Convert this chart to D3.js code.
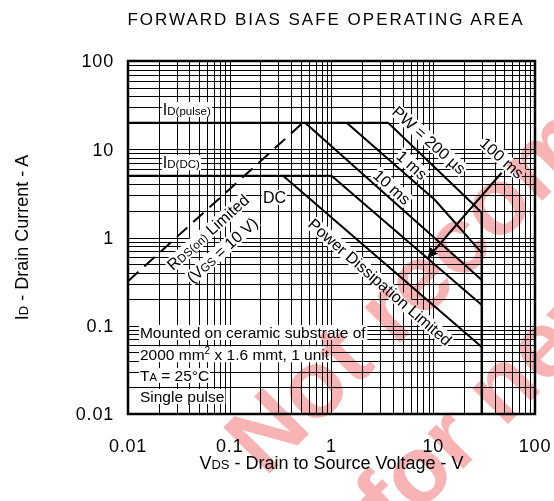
<!DOCTYPE html>
<html>
<head>
<meta charset="utf-8">
<script src="https://cdn.jsdelivr.net/npm/d3@7"></script>
<style>
    body { margin: 0; background: #fff; }
    svg { font-family: 'Liberation Sans', Arial, sans-serif; }
    .grid line { stroke: #000; stroke-width: 1; shape-rendering: crispEdges; }
    .curve { fill: none; stroke: #000; stroke-width: 2; }
    .tick-label { font-size: 18px; letter-spacing: 0.8px; fill: #000; }
    .axis-title { font-size: 18px; fill: #000; }
    .note { font-size: 15.5px; fill: #000; }
    .curve-label { font-size: 16px; fill: #000; }
    .watermark { font-size: 95px; font-weight: bold; fill: #f8b4b4; mix-blend-mode: multiply; }
</style>
</head>
<body>
<script>
'use strict';

// axis decades (log scale, both axes)
const xTicks = [0.01, 0.1, 1, 10, 100];
const yTicks = [0.01, 0.1, 1, 10, 100];
const xTickLabels = ['0.01', '0.1', '1', '10', '100'];
const yTickLabels = ['0.01', '0.1', '1', '10', '100'];

// limits [V, A]
const idPulse = [[0.01, 20], [3.6, 20]];
const idDC = [[0.01, 5], [1.0, 5]];
const vdssLimit = [[30, 1.9], [30, 0.01]];
const rdsLimit = [[0.01, 0.32], [0.525, 20]];

// pulse curves [V, A]
const pw200us = [[3.6, 20], [24, 2.46], [30, 1.9]];
const pw1ms = [[1.41, 20], [10.4, 2.66], [30, 0.67]];
const pw10ms = [[0.55, 20], [30, 0.33]];
const pw100ms = [[1.0, 5], [30, 0.172]];
const dcCurve = [[0.334, 5], [30, 0.0574]];

const noteLines = [
    'Mounted on ceramic substrate of',
    '2000 mm\u00B2 x 1.6 mmt, 1 unit',
    'TA = 25\u00B0C',
    'Single pulse'
];

const watermarkLines = ['Not recommended', 'for new design'];

(function () {

    function getPlotArea() {
        const plot = {
            svg: { width: 554, height: 501 },
            padding: { top: 61, right: 19, bottom: 87, left: 128 }
        };
        plot.range = {
            x: plot.svg.width - plot.padding.left - plot.padding.right,
            y: plot.svg.height - plot.padding.top - plot.padding.bottom
        };
        return plot;
    }

    function makeScales(plot) {
        return {
            x: d3.scaleLog().domain([0.01, 100]).range([0, plot.range.x]),
            y: d3.scaleLog().domain([0.01, 100]).range([plot.range.y, 0])
        };
    }

    // every 1..9 step of each decade
    function minorValues(lo, hi) {
        const out = [];
        for (let p = Math.log10(lo); p < Math.log10(hi); ++p) {
            for (let k = 1; k < 10; ++k) {
                out.push(k * Math.pow(10, p));
            }
        }
        out.push(hi);
        return out;
    }

    function appendGrid(g, plot, scales) {
        const grid = g.append('g').attr('class', 'grid');
        grid.selectAll('line.v')
            .data(minorValues(0.01, 100))
            .enter().append('line')
            .attr('class', 'v')
            .attr('x1', d => Math.round(scales.x(d)) + 0.5)
            .attr('x2', d => Math.round(scales.x(d)) + 0.5)
            .attr('y1', 0)
            .attr('y2', plot.range.y);
        grid.selectAll('line.h')
            .data(minorValues(0.01, 100))
            .enter().append('line')
            .attr('class', 'h')
            .attr('y1', d => Math.round(scales.y(d)) + 0.5)
            .attr('y2', d => Math.round(scales.y(d)) + 0.5)
            .attr('x1', 0)
            .attr('x2', plot.range.x);
    }

    function appendCurves(g, scales) {
        const line = d3.line().x(d => scales.x(d[0])).y(d => scales.y(d[1]));
        const curves = g.append('g').attr('class', 'curves');
        [idPulse, idDC, pw200us, pw1ms, pw10ms, pw100ms, dcCurve].forEach(c => {
            curves.append('path').attr('class', 'curve').attr('d', line(c));
        });
        curves.append('path').attr('class', 'curve')
            .attr('d', line(vdssLimit))
            .style('stroke-width', 2.5);
        curves.append('path').attr('class', 'curve')
            .attr('d', line(rdsLimit))
            .style('stroke-dasharray', '14,8');
    }

    // text with a white plate behind it, so grid lines are hidden
    function appendPlateText(g, x, y, angle, anchor, cls, build) {
        const grp = g.append('g')
            .attr('transform', 'translate(' + x + ',' + y + ') rotate(' + angle + ')');
        const rect = grp.append('rect').attr('fill', '#fff');
        const text = grp.append('text')
            .attr('class', cls)
            .attr('text-anchor', anchor);
        build(text);
        const bb = text.node().getBBox();
        rect.attr('x', bb.x - 1).attr('y', bb.y + 1)
            .attr('width', bb.width + 2).attr('height', bb.height - 2);
        return grp;
    }

    function subText(text, main, sub) {
        text.append('tspan').text(main);
        text.append('tspan').attr('font-size', '0.72em').text(sub);
    }

    function appendLabels(g, scales) {
        const at = (v, i) => [scales.x(v), scales.y(i)];

        let p = at(0.022, 24.4);
        appendPlateText(g, p[0], p[1], 0, 'start', 'curve-label', t => subText(t, 'I', 'D(pulse)'));
        p = at(0.022, 6.1);
        appendPlateText(g, p[0], p[1], 0, 'start', 'curve-label', t => subText(t, 'I', 'D(DC)'));
        p = at(0.212, 2.46);
        appendPlateText(g, p[0], p[1], 0, 'start', 'curve-label', t => t.text('DC'));

        p = at(9.1, 12.7);
        appendPlateText(g, p[0], p[1], 42, 'middle', 'curve-label', t => t.attr('dy', '0.35em').text('PW = 200 \u00B5s'));
        p = at(6.18, 6.63);
        appendPlateText(g, p[0], p[1], 42, 'middle', 'curve-label', t => t.attr('dy', '0.35em').text('1 ms'));
        p = at(3.93, 3.73);
        appendPlateText(g, p[0], p[1], 42, 'middle', 'curve-label', t => t.attr('dy', '0.35em').text('10 ms'));
        p = at(47.4, 7.96);
        appendPlateText(g, p[0], p[1], 42, 'middle', 'curve-label', t => t.attr('dy', '0.35em').text('100 ms'));

        p = at(0.061, 1.15);
        appendPlateText(g, p[0], p[1], -42, 'middle', 'curve-label', t => {
            t.attr('dy', '0.35em');
            subText(t, 'R', 'DS(on)');
            t.append('tspan').text(' Limited');
        });
        p = at(0.084, 0.72);
        appendPlateText(g, p[0], p[1], -42, 'middle', 'curve-label', t => {
            t.attr('dy', '0.35em');
            subText(t, '(V', 'GS');
            t.append('tspan').text(' = 10 V)');
        });
        p = at(3.0, 0.313);
        appendPlateText(g, p[0], p[1], 41, 'middle', 'curve-label', t => t.attr('dy', '0.35em').text('Power Dissipation Limited'));

        // arrow pointing the 100 ms label at its curve
        const a = at(47, 5.42), b = at(8.93, 0.596);
        g.append('defs').append('marker')
            .attr('id', 'arrowHead')
            .attr('viewBox', '0 0 10 10')
            .attr('refX', 9).attr('refY', 5)
            .attr('markerWidth', 10).attr('markerHeight', 10)
            .attr('markerUnits', 'userSpaceOnUse')
            .attr('orient', 'auto')
            .append('path').attr('d', 'M0,0 L10,5 L0,10 z').attr('fill', '#000');
        g.append('line')
            .attr('x1', a[0]).attr('y1', a[1])
            .attr('x2', b[0]).attr('y2', b[1])
            .attr('stroke', '#000').attr('stroke-width', 2)
            .attr('marker-end', 'url(#arrowHead)');

        // measurement conditions
        const noteI = [0.0726, 0.041, 0.0237, 0.0137];
        noteLines.forEach((s, k) => {
            p = at(0.0131, noteI[k]);
            appendPlateText(g, p[0], p[1], 0, 'start', 'note', t => {
                if (k === 1) {
                    t.append('tspan').text('2000 mm');
                    t.append('tspan').attr('font-size', '0.65em').attr('dy', '-0.55em').text('2');
                    t.append('tspan').attr('dy', '0.38em').text(' x 1.6 mmt, 1 unit');
                } else if (k === 2) {
                    subText(t, 'T', 'A');
                    t.append('tspan').text(' = 25\u00B0C');
                } else {
                    t.text(s);
                }
            });
        });
    }

    function appendAxes(svg, g, plot, scales) {
        g.append('rect')
            .attr('width', plot.range.x).attr('height', plot.range.y)
            .attr('fill', 'none').attr('stroke', '#000').attr('stroke-width', 2.5);
        g.selectAll('text.ylab')
            .data(yTicks).enter().append('text')
            .attr('class', 'tick-label')
            .attr('text-anchor', 'end')
            .attr('x', -14)
            .attr('y', d => scales.y(d))
            .attr('dy', '0.35em')
            .text((d, i) => yTickLabels[i]);
        g.selectAll('text.xlab')
            .data(xTicks).enter().append('text')
            .attr('class', 'tick-label')
            .attr('text-anchor', 'middle')
            .attr('x', d => scales.x(d))
            .attr('y', plot.range.y + 38)
            .text((d, i) => xTickLabels[i]);

        const xt = svg.append('text')
            .attr('class', 'axis-title')
            .attr('text-anchor', 'middle')
            .attr('x', plot.padding.left + plot.range.x / 2)
            .attr('y', 469);
        subText(xt, 'V', 'DS');
        xt.append('tspan').text(' - Drain to Source Voltage - V');

        const yt = svg.append('text')
            .attr('class', 'axis-title')
            .attr('text-anchor', 'middle')
            .attr('transform', 'translate(28,' + (plot.padding.top + plot.range.y / 2) + ') rotate(-90)');
        subText(yt, 'I', 'D');
        yt.append('tspan').text(' - Drain Current - A');

        svg.append('text')
            .attr('text-anchor', 'middle')
            .attr('x', 326).attr('y', 25)
            .style('font-size', '17px')
            .style('letter-spacing', '2px')
            .text('FORWARD BIAS SAFE OPERATING AREA');
    }

    // pink "not recommended" stamp blended over the whole chart
    function appendWatermark(svg) {
        const starts = [[265, 478], [395, 537]];
        watermarkLines.forEach((s, k) => {
            svg.append('text')
                .attr('class', 'watermark')
                .attr('transform', 'translate(' + starts[k][0] + ',' + starts[k][1] + ') rotate(-45)')
                .text(s);
        });
    }

    function draw() {
        const plot = getPlotArea();
        const svg = d3.select('body').append('svg')
            .attr('width', plot.svg.width).attr('height', plot.svg.height);
        const g = svg.append('g')
            .attr('transform', 'translate(' + plot.padding.left + ',' + plot.padding.top + ')');
        const scales = makeScales(plot);
        appendGrid(g, plot, scales);
        appendCurves(g, scales);
        appendLabels(g, scales);
        appendAxes(svg, g, plot, scales);
        appendWatermark(svg);
    }

    window.onload = draw;

})();
</script>
</body>
</html>
